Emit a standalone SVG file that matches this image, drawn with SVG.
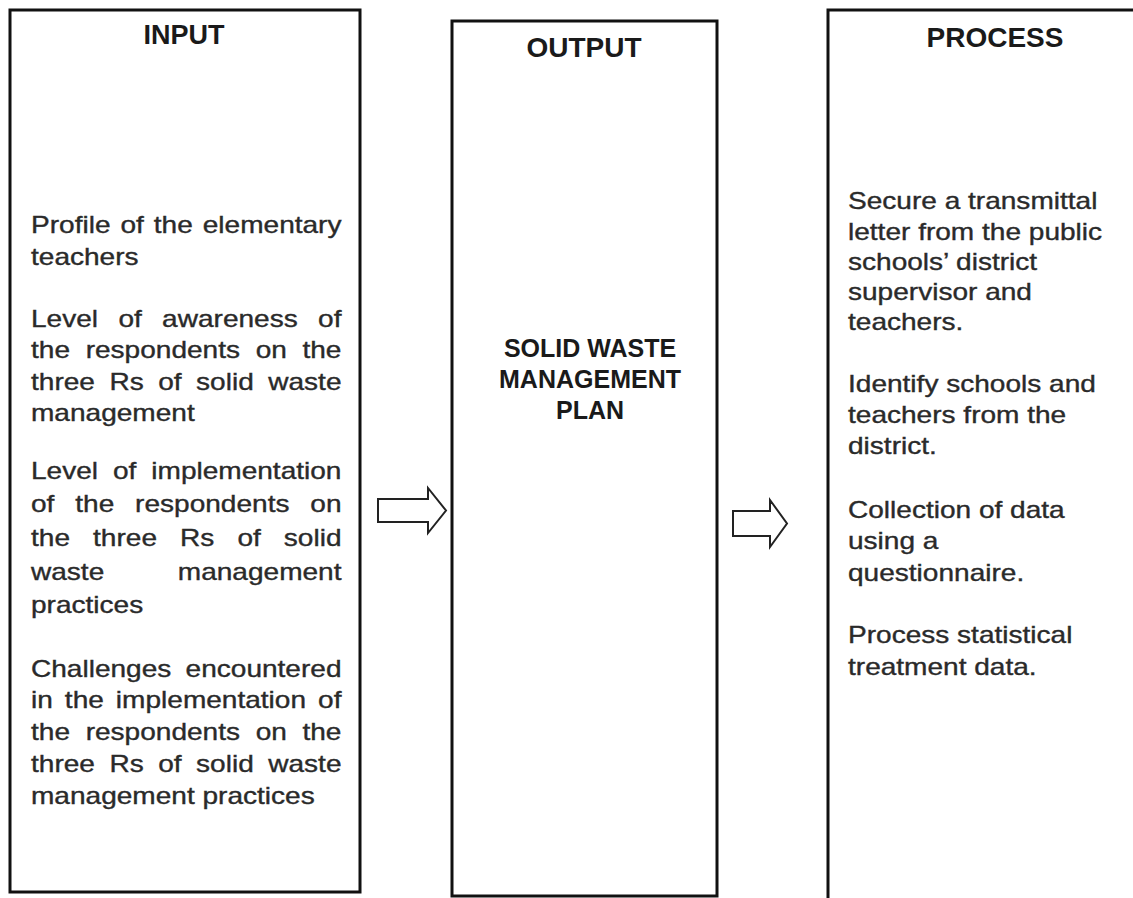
<svg xmlns="http://www.w3.org/2000/svg" width="1133" height="898" viewBox="0 0 1133 898">
<style>
.box{fill:#fff;stroke:#111;stroke-width:3}
.head{font-family:"Liberation Sans",Arial,sans-serif;font-weight:bold;fill:#1a1a1a;text-anchor:middle}
.body{font-family:"Liberation Sans",Arial,sans-serif;font-size:23px;fill:#2a2a2a;stroke:#2a2a2a;stroke-width:0.35}
.arrow{fill:#fff;stroke:#222;stroke-width:2;stroke-linejoin:miter}
</style>
<rect width="1133" height="898" fill="#fff"/>
<g id="input">
<rect class="box" x="10" y="10" width="350" height="882"/>
<text class="head" x="184" y="44" font-size="27">INPUT</text>
<g class="body" transform="translate(31 0) scale(1.22 1)">
<text y="233" word-spacing="1.78">Profile of the elementary</text>
<text y="265">teachers</text>
<text y="327" word-spacing="10.29">Level of awareness of</text>
<text y="358" word-spacing="6.44">the respondents on the</text>
<text y="390" word-spacing="5.49">three Rs of solid waste</text>
<text y="421">management</text>
<text y="479" word-spacing="5.85">Level of implementation</text>
<text y="512" word-spacing="10.71">of the respondents on</text>
<text y="546" word-spacing="12.52">the three Rs of solid</text>
<text y="580" word-spacing="53.9">waste management</text>
<text y="613">practices</text>
<text y="677" word-spacing="5.3">Challenges encountered</text>
<text y="708" word-spacing="3.47">in the implementation of</text>
<text y="740" word-spacing="6.44">the respondents on the</text>
<text y="772" word-spacing="5.49">three Rs of solid waste</text>
<text y="804">management practices</text>
</g>
</g>
<g id="output">
<rect class="box" x="452" y="21" width="265" height="875"/>
<text class="head" x="584" y="57" font-size="28">OUTPUT</text>
<text class="head" x="590" y="357" font-size="25">SOLID WASTE</text>
<text class="head" x="590" y="388" font-size="25">MANAGEMENT</text>
<text class="head" x="590" y="419" font-size="25">PLAN</text>
</g>
<g id="process">
<rect class="box" x="828" y="10" width="340" height="900"/>
<text class="head" x="995" y="47" font-size="28">PROCESS</text>
<g class="body" transform="translate(848 0) scale(1.22 1)">
<text y="209">Secure a transmittal</text>
<text y="240">letter from the public</text>
<text y="270">schools’ district</text>
<text y="300">supervisor and</text>
<text y="330">teachers.</text>
<text y="392">Identify schools and</text>
<text y="423">teachers from the</text>
<text y="454">district.</text>
<text y="518">Collection of data</text>
<text y="549">using a</text>
<text y="581">questionnaire.</text>
<text y="643">Process statistical</text>
<text y="675">treatment data.</text>
</g>
</g>
<g id="connectors">
<polygon class="arrow" points="378,499 428,499 428,488 446,510.5 428,533 428,522 378,522"/>
<polygon class="arrow" points="733,511 770,511 770,500 787,523.5 770,547 770,536 733,536"/>
</g>
</svg>
